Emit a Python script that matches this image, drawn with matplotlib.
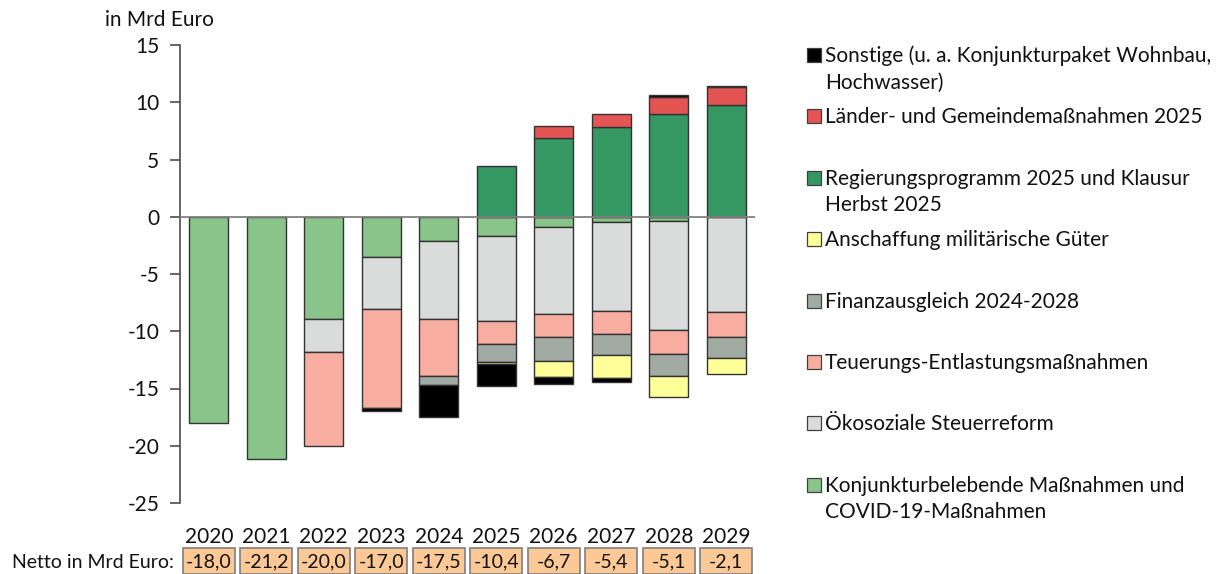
import numpy as np
import matplotlib
matplotlib.use("Agg")
import matplotlib.pyplot as plt
from matplotlib.patches import Rectangle

plt.rcParams['font.family'] = ['Lato', 'DejaVu Sans']
plt.rcParams['axes.unicode_minus'] = False

years = ['2020', '2021', '2022', '2023', '2024', '2025', '2026', '2027', '2028', '2029']

# Mrd Euro
konjunktur = [-18.0, -21.2, -8.9, -3.5, -2.1, -1.7, -0.9, -0.5, -0.4, 0.0]
oekosozial = [0.0, 0.0, -2.9, -4.6, -6.8, -7.4, -7.6, -7.7, -9.5, -8.3]
teuerung = [0.0, 0.0, -8.2, -8.6, -5.0, -2.0, -2.0, -2.0, -2.1, -2.2]
finanzausgleich = [0.0, 0.0, 0.0, 0.0, -0.8, -1.6, -2.1, -1.9, -1.9, -1.8]
militaer = [0.0, 0.0, 0.0, 0.0, 0.0, -0.2, -1.4, -2.0, -1.8, -1.4]
regierung = [0.0, 0.0, 0.0, 0.0, 0.0, 4.4, 6.9, 7.8, 9.0, 9.8]
laender = [0.0, 0.0, 0.0, 0.0, 0.0, 0.0, 1.0, 1.2, 1.5, 1.5]
sonstige = [0.0, 0.0, 0.0, -0.3, -2.8, -1.9, -0.6, -0.3, 0.1, 0.1]

netto = ['-18,0', '-21,2', '-20,0', '-17,0', '-17,5', '-10,4', '-6,7', '-5,4', '-5,1', '-2,1']

lab_sonstige = 'Sonstige (u. a. Konjunkturpaket Wohnbau,\nHochwasser)'
lab_laender = 'Länder- und Gemeindemaßnahmen 2025'
lab_regierung = 'Regierungsprogramm 2025 und Klausur\nHerbst 2025'
lab_militaer = 'Anschaffung militärische Güter'
lab_finanz = 'Finanzausgleich 2024-2028'
lab_teuerung = 'Teuerungs-Entlastungsmaßnahmen'
lab_oeko = 'Ökosoziale Steuerreform'
lab_konj = 'Konjunkturbelebende Maßnahmen und\nCOVID-19-Maßnahmen'

# stacking order (positives and negatives stacked separately)
series = [
    (konjunktur, '#89c58a', lab_konj),
    (oekosozial, '#d9dcdb', lab_oeko),
    (teuerung, '#f8ada1', lab_teuerung),
    (finanzausgleich, '#a2aaa4', lab_finanz),
    (militaer, '#ffff99', lab_militaer),
    (regierung, '#359762', lab_regierung),
    (laender, '#e35453', lab_laender),
    (sonstige, '#000000', lab_sonstige),
]
legend_order = [7, 6, 5, 4, 3, 2, 1, 0]

W, H = 1217, 574
def fx(px):
    return px / W
def fy(py):
    return 1 - py / H

fig = plt.figure(figsize=(W / 100, H / 100), dpi=100)
ax = fig.add_axes([fx(180), fy(503), 575 / W, 458 / H])

x = np.arange(len(years))
pos = np.zeros(len(years))
neg = np.zeros(len(years))
for vals, col, lab in series:
    v = np.array(vals)
    for i in range(len(years)):
        if v[i] == 0:
            continue
        if v[i] > 0:
            ax.bar(x[i], v[i], bottom=pos[i], width=0.68, color=col,
                   edgecolor='#333333', linewidth=1.0, zorder=2)
            pos[i] += v[i]
        else:
            ax.bar(x[i], v[i], bottom=neg[i], width=0.68, color=col,
                   edgecolor='#333333', linewidth=1.0, zorder=2)
            neg[i] += v[i]

ax.axhline(0, color='#808080', lw=1.3, zorder=3)
ax.set_xlim(-0.5, 9.5)
ax.set_ylim(-25, 15)
ax.set_yticks(range(-25, 16, 5))
ax.set_xticks(x, years)
for s in ['top', 'right', 'bottom']:
    ax.spines[s].set_visible(False)
ax.spines['left'].set_color('#595959')
ax.spines['left'].set_linewidth(1.3)
ax.tick_params(axis='y', direction='out', length=7, width=1.3, color='#595959',
               labelsize=15, pad=8, labelcolor='#111111')
ax.tick_params(axis='x', length=0, pad=17, labelsize=15, labelcolor='#111111')

fig.text(fx(105), fy(26), 'in Mrd Euro', fontsize=15, color='#111111', va='baseline')

# netto row
tax = fig.add_axes([fx(180), 0, 575 / W, 26 / H])
tax.set_xlim(-0.5, 9.5)
tax.set_ylim(0, 1)
tax.axis('off')
tax.bar(x, 1.0, width=0.9, bottom=0, color='#fcc896', edgecolor='#7f7f7f',
        linewidth=1.2, clip_on=False)
for i, t in enumerate(netto):
    tax.text(x[i], 0.45, t, ha='center', va='center', fontsize=14, color='#111111')
fig.text(fx(12), fy(563), 'Netto in Mrd Euro:', fontsize=14, color='#111111', va='center')

# legend
base = 62
for k, idx in enumerate(legend_order):
    vals, col, lab = series[idx]
    yb = base + k * 61.4
    fig.add_artist(Rectangle((fx(807), fy(yb)), 14 / W, 14 / H, transform=fig.transFigure,
                             facecolor=col, edgecolor='#404040', linewidth=0.9))
    for j, line in enumerate(lab.split('\n')):
        fig.text(fx(825), fy(yb + j * 26.5), line, fontsize=15, color='#111111', va='baseline')

fig.savefig('out.png', dpi=100)
